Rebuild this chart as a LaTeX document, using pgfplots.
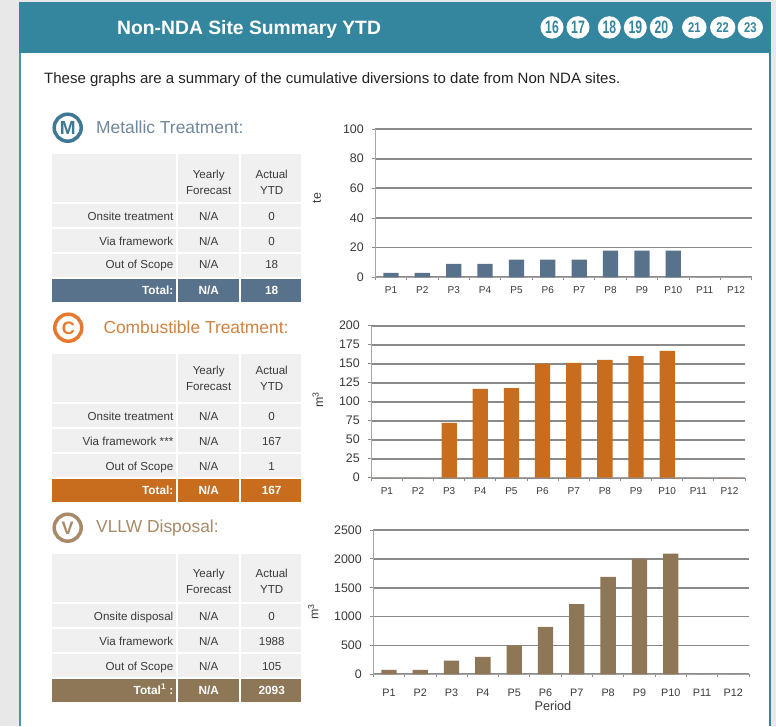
\documentclass[border=0pt]{standalone}
\usepackage{fontspec}
\setmainfont{Liberation Sans}
\usepackage{pgfplots}
\pgfplotsset{compat=1.18}
\definecolor{teal1}{HTML}{33869E}
\definecolor{tealb}{HTML}{4A94AC}
\definecolor{bluec}{HTML}{58728C}
\definecolor{orangec}{HTML}{C86C1E}
\definecolor{brownc}{HTML}{8E7757}
\definecolor{cellg}{HTML}{F0F0F0}
\definecolor{pageg}{HTML}{E8E8E8}
\definecolor{txt}{HTML}{3A3A3A}
\definecolor{gridc}{HTML}{8A8A8A}
\definecolor{axisc}{HTML}{A6A6A6}
\definecolor{iconb}{HTML}{3F7894}
\definecolor{icono}{HTML}{E8782E}
\definecolor{iconv}{HTML}{A88A68}
\newcommand{\fs}[1]{\fontsize{#1}{#1}\selectfont}
\newcommand{\cellrow}[3]{%
  \fill[#3] (51.7,#1) rectangle (176,#2);
  \fill[#3] (178,#1) rectangle (238.7,#2);
  \fill[#3] (240.7,#1) rectangle (300.7,#2);}
\newcommand{\tbl}[3]{%
  \cellrow{#1}{#1+48}{cellg}
  \cellrow{#1+50}{#1+72.7}{cellg}
  \cellrow{#1+75.3}{#1+97.7}{cellg}
  \cellrow{#1+100}{#1+122.7}{cellg}
  \cellrow{#1+125}{#1+147.5}{#2}
  \node[txt,font=\fs{11.6},anchor=base,inner sep=0pt] at (208.7,#1+#3+4) {Yearly};
  \node[txt,font=\fs{11.6},anchor=base,inner sep=0pt] at (208.7,#1+#3+20) {Forecast};
  \node[txt,font=\fs{11.6},anchor=base,inner sep=0pt] at (271.7,#1+#3+4) {Actual};
  \node[txt,font=\fs{11.6},anchor=base,inner sep=0pt] at (271.7,#1+#3+20) {YTD};}
\newcommand{\rowt}[3]{%
  \node[txt,font=\fs{11.6},anchor=base east,inner sep=0pt] at (173.5,#1+4.2) {#2};
  \node[txt,font=\fs{11.6},anchor=base,inner sep=0pt] at (208.7,#1+4.2) {N/A};
  \node[txt,font=\fs{11.6},anchor=base,inner sep=0pt] at (271.7,#1+4.2) {#3};}
\newcommand{\tott}[3]{%
  \node[white,font=\fs{11.8}\bfseries,anchor=base east,inner sep=0pt] at (173.5,#1+4.2) {#2};
  \node[white,font=\fs{11.8}\bfseries,anchor=base,inner sep=0pt] at (208.7,#1+4.2) {N/A};
  \node[white,font=\fs{11.8}\bfseries,anchor=base,inner sep=0pt] at (271.7,#1+4.2) {#3};}
\pgfplotsset{
  chart/.style={
    scale only axis, ybar, bar width=15.3pt, xmin=0.5, xmax=12.5, ymin=0,
    xtick={1,...,12},
    xticklabels={P1,P2,P3,P4,P5,P6,P7,P8,P9,P10,P11,P12},
    minor xtick={0.5,1.5,...,12.5},
    major x tick style={draw=none},
    minor x tick style={draw=gridc,line width=0.8pt},
    minor tick length=3pt,
    tickwidth=3pt,
    xtick pos=lower, ytick pos=left,
    ytick align=outside, xtick align=outside,
    ymajorgrids, 
    grid style={draw=gridc,line width=1.7pt},
    minor grid style={draw=none},
    axis x line*=bottom, axis y line*=left,
    axis line style={draw=axisc,line width=1pt},
    y tick style={draw=gridc,line width=0.8pt},
    tick label style={text=txt},
    yticklabel style={font=\fs{12.4},/pgf/number format/assume math mode=true,/pgf/number format/1000 sep={},xshift=-5pt},
    xticklabel style={font=\fs{10},yshift=-3pt},
    scaled y ticks=false,
    ylabel style={font=\fs{12.4},text=txt,anchor=center},
    clip=false,
    axis on top=false,
  }
}
\begin{document}
\begin{tikzpicture}
\begin{scope}[x=1pt,y=-1pt]
\path[use as bounding box] (0,0) rectangle (776,726);
\fill[pageg] (0,0) rectangle (776,726);
\fill[white] (19,2) rectangle (770.5,726);
\fill[tealb] (19,53) rectangle (21,726);
\fill[teal1] (768.5,53) rectangle (770.5,726);
\fill[teal1] (19,2) rectangle (771,53);
\node[white,font=\fs{19.3}\bfseries,anchor=base west,inner sep=0pt] at (117,34) {Non-NDA Site Summary YTD};
\node[txt!60!black,font=\fs{15},anchor=base west,inner sep=0pt] at (44,83.5) {These graphs are a summary of the cumulative diversions to date from Non NDA sites.};
\foreach \cx/\rx/\fsz/\sc/\lab in {552/11.5/18/0.68/16,578/11.5/18/0.68/17,609.3/11.5/18/0.68/18,635.3/11.5/18/0.68/19,661.3/11.5/18/0.68/20,694.3/12.3/14/0.8/21,722.7/12.7/14/0.8/22,750.3/12.7/14/0.8/23}{
  \fill[white] (\cx,27.4) ellipse[x radius=\rx,y radius=11.2];
  \node[teal1,font=\fs{\fsz}\bfseries,inner sep=0pt] at (\cx,27.6) {\scalebox{\sc}[1]{\lab}};
}
% icons
\draw[color=iconb,line width=3.5pt] (67.7,127.7) circle[radius=13.5];
\node[color=iconb,font=\fs{19}\bfseries,inner sep=0pt] at (67.7,128) {M};
\node[color=bluec!85!white,font=\fs{17.4},anchor=base west,inner sep=0pt] at (96,133) {Metallic Treatment:};
\draw[color=icono,line width=3.5pt] (68.3,327.7) circle[radius=13.5];
\node[color=icono,font=\fs{18}\bfseries,inner sep=0pt] at (68.3,328) {C};
\node[color=orangec!85!white,font=\fs{17.4},anchor=base west,inner sep=0pt] at (103.3,333) {Combustible Treatment:};
\draw[color=iconv,line width=3.5pt] (67.7,527.7) circle[radius=13.5];
\node[color=iconv,font=\fs{18}\bfseries,inner sep=0pt] at (67.7,528) {V};
\node[color=iconv,font=\fs{17.4},anchor=base west,inner sep=0pt] at (96,532) {VLLW Disposal:};
% tables
\tbl{154}{bluec}{20}
\rowt{216}{Onsite treatment}{0}
\rowt{241}{Via framework}{0}
\rowt{264}{Out of Scope}{18}
\tott{290}{Total:}{18}
\tbl{354}{orangec}{16}
\rowt{416}{Onsite treatment}{0}
\rowt{441}{Via framework ***}{167}
\rowt{466}{Out of Scope}{1}
\tott{490.5}{Total:}{167}
\tbl{554}{brownc}{19}
\rowt{616}{Onsite disposal}{0}
\rowt{641}{Via framework}{1988}
\rowt{666}{Out of Scope}{105}
\tott{690}{Total\textsuperscript{1} :}{2093}
\end{scope}
\begin{axis}[chart, at={(375.3pt,-277.3pt)}, anchor=south west, width=376.4pt, height=148.3pt,
  ymax=100, ytick={0,20,...,100},
  ylabel={te}, ylabel style={at={(axis description cs:-0.155,0.535)}}]
\addplot[fill=bluec,draw=none] coordinates {(1,3)(2,3)(3,9)(4,9)(5,12)(6,12)(7,12)(8,18)(9,18)(10,18)(11,0)(12,0)};
\end{axis}
\begin{axis}[chart, at={(371.3pt,-477.7pt)}, anchor=south west, width=373.7pt, height=152pt,
  ymax=200, ytick={0,25,...,200},
  ylabel={m\textsuperscript{3}}, ylabel style={at={(axis description cs:-0.143,0.511)}}]
\addplot[fill=orangec,draw=none] coordinates {(1,0)(2,0)(3,72)(4,117)(5,118)(6,150)(7,151)(8,155)(9,160)(10,167)(11,0)(12,0)};
\end{axis}
\begin{axis}[chart, at={(373.3pt,-674.3pt)}, anchor=south west, width=375.7pt, height=144.3pt,
  ymax=2500, ytick={0,500,...,2500},
  xticklabel style={font=\fs{10.8},yshift=-5pt},
  xlabel={Period}, xlabel style={font=\fs{12.7},text=txt,at={(axis description cs:0.478,-0.22)},anchor=center},
  ylabel={m\textsuperscript{3}}, ylabel style={at={(axis description cs:-0.16,0.432)}}]
\addplot[fill=brownc,draw=none] coordinates {(1,75)(2,75)(3,235)(4,300)(5,500)(6,820)(7,1215)(8,1690)(9,2000)(10,2090)(11,0)(12,0)};
\end{axis}
\end{tikzpicture}
\end{document}
